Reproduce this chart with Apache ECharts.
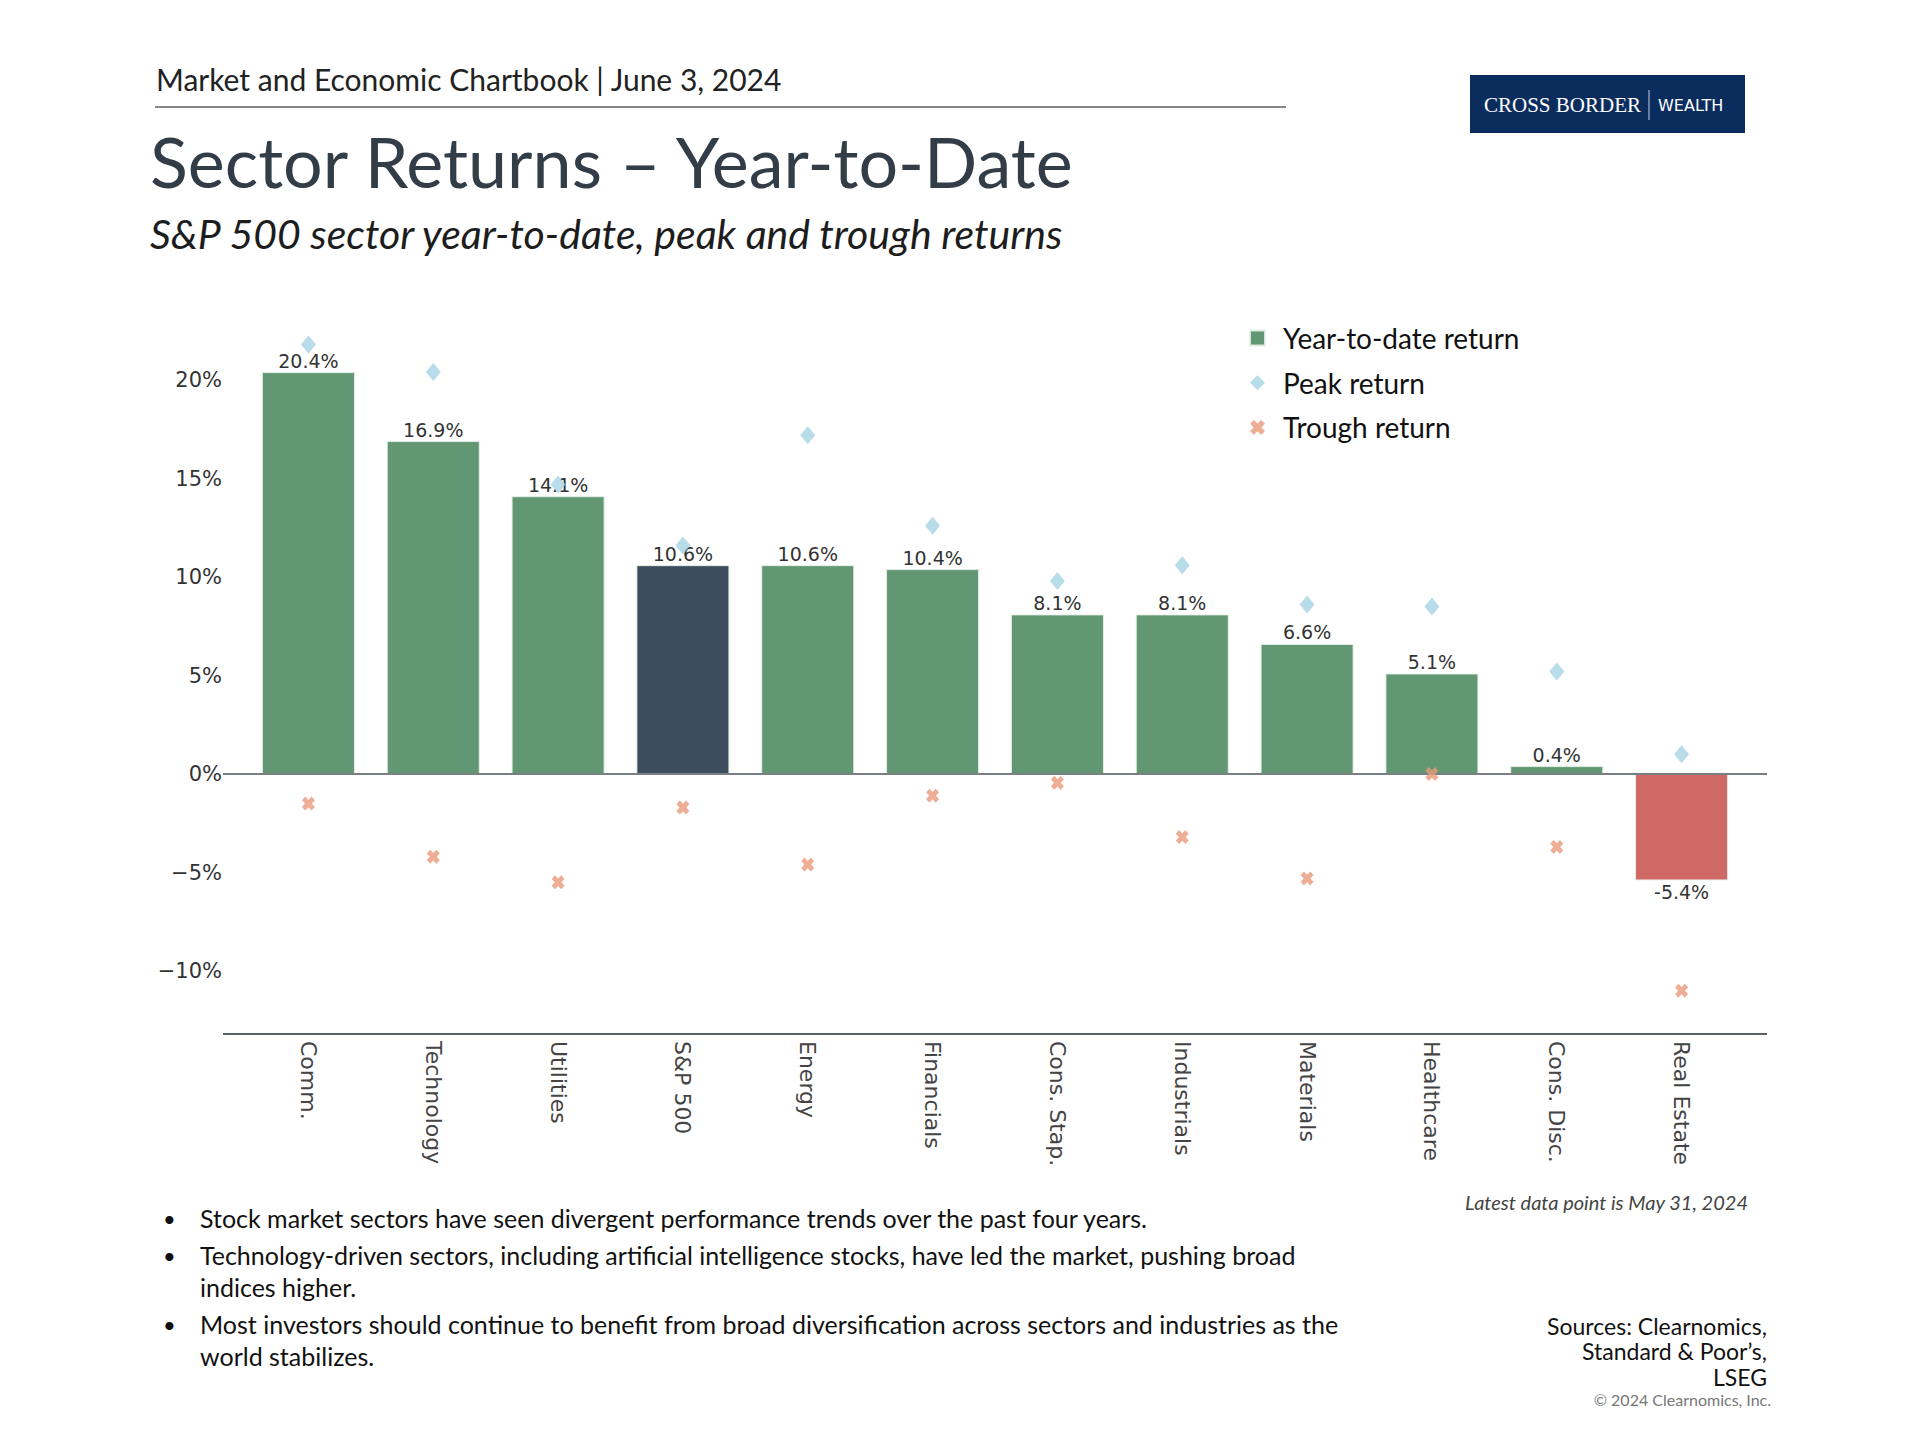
<!DOCTYPE html>
<html>
<head>
<meta charset="utf-8">
<script src="https://cdn.jsdelivr.net/npm/echarts@6/dist/echarts.min.js"></script>
<style>
html,body{margin:0;padding:0;background:#fff;}
#chart{width:1920px;height:1440px;}
</style>
</head>
<body>
<div id="chart"></div>
<script>
const categories = ['Comm.', 'Technology', 'Utilities', 'S&P 500', 'Energy', 'Financials', 'Cons. Stap.', 'Industrials', 'Materials', 'Healthcare', 'Cons. Disc.', 'Real Estate'];
const ytdReturns = [20.4, 16.9, 14.1, 10.6, 10.6, 10.4, 8.1, 8.1, 6.6, 5.1, 0.4, -5.4];
const peakReturns = [21.8, 20.4, 14.7, 11.6, 17.2, 12.6, 9.8, 10.6, 8.6, 8.5, 5.2, 1.0];
const troughReturns = [-1.5, -4.2, -5.5, -1.7, -4.6, -1.1, -0.45, -3.2, -5.3, 0.0, -3.7, -11.0];
const yTicks = [-10, -5, 0, 5, 10, 15, 20];
const axisBottomValue = -13.2;

const seriesNames = ['Year-to-date return', 'Peak return', 'Trough return'];
const GREEN = '#619773', DARK = '#3c4e5d', RED = '#d06866', BLUE = '#a6d3e4', ORANGE = '#e99a7b';
const X_PATH = 'path://M0,2.6 L2.6,0 L5,2.4 L7.4,0 L10,2.6 L7.6,5 L10,7.4 L7.4,10 L5,7.6 L2.6,10 L0,7.4 L2.4,5 Z';

const chart = echarts.init(document.getElementById('chart'), null, {renderer: 'svg'});

const barData = ytdReturns.map((v, i) => ({
  value: v,
  itemStyle: {color: categories[i] === 'S&P 500' ? DARK : (v < 0 ? RED : GREEN)},
  label: {position: v < 0 ? 'bottom' : 'top'}
}));

chart.setOption({
  animation: false,
  backgroundColor: '#ffffff',
  grid: {left: 246, right: 176, top: 281.5, bottom: 370.5},
  legend: {
    orient: 'vertical',
    left: 1244,
    top: 318,
    itemWidth: 15,
    itemHeight: 15,
    itemGap: 14.7,
    textStyle: {fontFamily: 'Lato', fontSize: 28, color: '#111', lineHeight: 30, padding: [0, 0, 0, 13]},
    data: [
      {name: seriesNames[0], icon: 'rect', itemStyle: {color: GREEN}},
      {name: seriesNames[1], icon: 'diamond', itemStyle: {color: BLUE}},
      {name: seriesNames[2], icon: X_PATH, itemStyle: {color: ORANGE}}
    ]
  },
  xAxis: {
    type: 'category',
    data: categories,
    offset: -35.5,
    axisLine: {show: false},
    axisTick: {show: false},
    axisLabel: {rotate: -90, margin: 7, fontFamily: 'DejaVu Sans', fontSize: 22, color: '#444', interval: 0}
  },
  yAxis: {
    type: 'value',
    min: -15,
    max: 25,
    interval: 5,
    axisLine: {show: false},
    axisTick: {show: false},
    splitLine: {show: false},
    axisLabel: {
      margin: 24,
      fontFamily: 'DejaVu Sans',
      fontSize: 21,
      color: '#333',
      formatter: v => yTicks.indexOf(v) < 0 ? '' : (v < 0 ? '\u2212' + Math.abs(v) : v) + '%'
    }
  },
  series: [
    {
      name: seriesNames[0],
      type: 'bar',
      z: 2,
      barWidth: 93,
      data: barData,
      itemStyle: {borderColor: 'rgba(230,240,232,0.9)', borderWidth: 1},
      label: {
        show: true,
        distance: 2,
        fontFamily: 'DejaVu Sans',
        fontSize: 19,
        color: '#333',
        formatter: p => p.value.toFixed(1) + '%'
      }
    },
    {
      name: seriesNames[1],
      type: 'scatter',
      z: 6,
      symbol: 'diamond',
      symbolSize: [15, 18],
      itemStyle: {color: BLUE},
      data: peakReturns
    },
    {
      name: seriesNames[2],
      type: 'scatter',
      z: 6,
      symbol: X_PATH,
      symbolSize: [13, 14],
      itemStyle: {color: ORANGE},
      data: troughReturns
    }
  ]
});

const y0 = chart.convertToPixel({yAxisIndex: 0}, 0);
const yBottom = chart.convertToPixel({yAxisIndex: 0}, axisBottomValue);
const lineLeft = 223, lineRight = 1767;

function txt(id, x, y, text, font, fill, align) {
  return {type: 'text', id: id, x: x, y: y, z: 10,
    style: {text: text, font: font, fill: fill, align: align || 'left', verticalAlign: 'middle'}};
}

chart.setOption({
  graphic: {elements: [
    {type: 'line', id: 'zeroLine', z: 4, shape: {x1: lineLeft, y1: y0, x2: lineRight, y2: y0}, style: {stroke: '#7a7f84', lineWidth: 2}},
    {type: 'line', id: 'axisLine', z: 4, shape: {x1: lineLeft, y1: yBottom, x2: lineRight, y2: yBottom}, style: {stroke: '#5a6066', lineWidth: 2}},
    txt('hdr', 156, 79, 'Market and Economic Chartbook | June 3, 2024', '30px Lato', '#222'),
    {type: 'line', id: 'hdrLine', z: 10, shape: {x1: 155, y1: 107, x2: 1286, y2: 107}, style: {stroke: '#5b6168', lineWidth: 1.5}},
    txt('title', 150, 161, 'Sector Returns \u2013 Year-to-Date', '70px Lato', '#333d47'),
    txt('sub', 150, 233, 'S&P 500 sector year-to-date, peak and trough returns', 'italic 41px Lato', '#1d1d1d'),
    {type: 'rect', id: 'logoBox', z: 10, shape: {x: 1470, y: 75, width: 275, height: 58}, style: {fill: '#0b2d5e'}},
    txt('logo1', 1484, 105, 'CROSS BORDER', '21px "Liberation Serif"', '#ffffff'),
    {type: 'line', id: 'logoSep', z: 11, shape: {x1: 1649, y1: 90, x2: 1649, y2: 120}, style: {stroke: '#c8d2e0', lineWidth: 1}},
    txt('logo2', 1658, 105, 'WEALTH', '16px "DejaVu Sans"', '#ffffff'),
    txt('latest', 1748, 1202, 'Latest data point is May 31, 2024', 'italic 20px Lato', '#444', 'right'),
    txt('b1', 163, 1218, '\u2022', '22px Lato', '#111'),
    txt('t1', 200, 1218, 'Stock market sectors have seen divergent performance trends over the past four years.', '25px Lato', '#111'),
    txt('b2', 163, 1255, '\u2022', '22px Lato', '#111'),
    txt('t2', 200, 1255, 'Technology-driven sectors, including artificial intelligence stocks, have led the market, pushing broad', '25px Lato', '#111'),
    txt('t2b', 200, 1287, 'indices higher.', '25px Lato', '#111'),
    txt('b3', 163, 1324, '\u2022', '22px Lato', '#111'),
    txt('t3', 200, 1324, 'Most investors should continue to benefit from broad diversification across sectors and industries as the', '25px Lato', '#111'),
    txt('t3b', 200, 1356, 'world stabilizes.', '25px Lato', '#111'),
    {type: 'text', id: 'sources', x: 1767, y: 1313, z: 10,
      style: {text: 'Sources: Clearnomics,\nStandard & Poor\u2019s,\nLSEG', font: '23px Lato', lineHeight: 25.5,
        fill: '#111', align: 'right', verticalAlign: 'top'}},
    txt('copy', 1771, 1399, '\u00a9 2024 Clearnomics, Inc.', '16px Lato', '#777', 'right')
  ]}
});
</script>
</body>
</html>
